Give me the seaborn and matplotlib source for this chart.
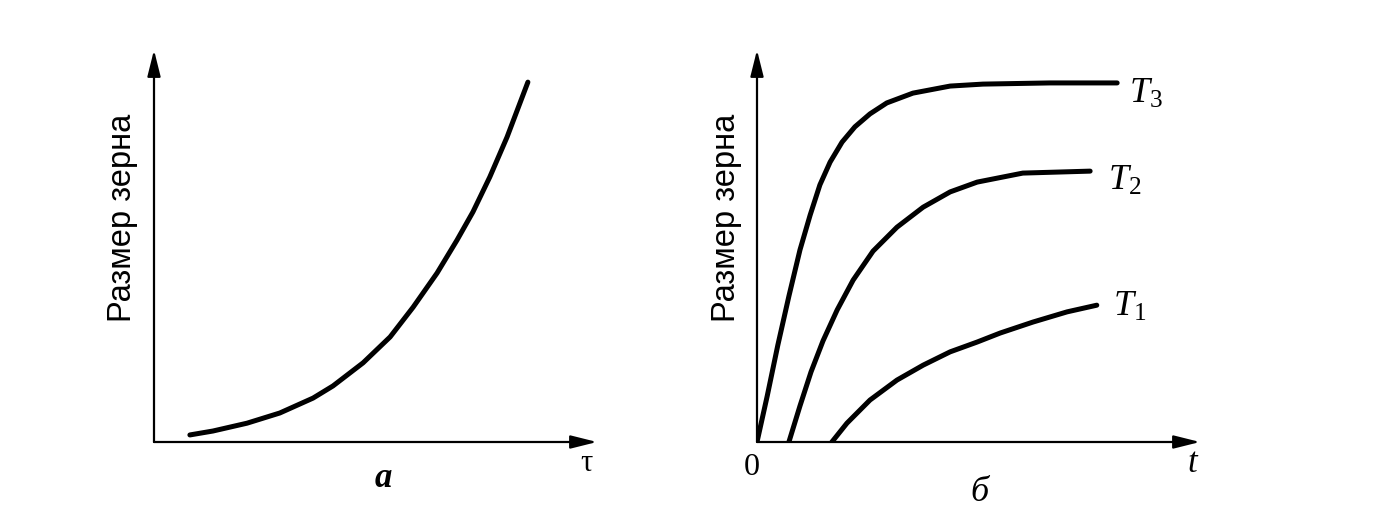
import matplotlib
matplotlib.use("Agg")
import matplotlib.pyplot as plt
import seaborn as sns
import pandas as pd

# curve a: grain size vs time (arbitrary units)
a_time = [0.81, 1.33, 2.10, 2.84, 3.59, 4.04, 4.72, 5.33, 5.85, 6.39, 6.84, 7.20, 7.58, 7.97, 8.44]
a_size = [0.18, 0.28, 0.48, 0.74, 1.12, 1.43, 2.02, 2.68, 3.44, 4.31, 5.15, 5.87, 6.76, 7.78, 9.18]

# curves б: grain size vs time at three temperatures
t3_time = [0.0, 0.23, 0.47, 0.72, 0.97, 1.20, 1.42, 1.65, 1.92, 2.21, 2.55, 2.93, 3.52, 4.36, 5.10, 6.61, 8.13]
t3_size = [0.0, 1.17, 2.47, 3.72, 4.90, 5.79, 6.56, 7.14, 7.65, 8.04, 8.37, 8.65, 8.90, 9.08, 9.13, 9.16, 9.16]
t2_time = [0.72, 0.97, 1.22, 1.49, 1.81, 2.17, 2.62, 3.16, 3.75, 4.36, 4.97, 6.00, 7.52]
t2_size = [0.0, 0.92, 1.79, 2.58, 3.37, 4.13, 4.87, 5.48, 5.99, 6.38, 6.63, 6.86, 6.91]
t1_time = [1.69, 2.03, 2.55, 3.16, 3.75, 4.36, 4.97, 5.49, 6.23, 7.00, 7.67]
t1_size = [0.0, 0.48, 1.07, 1.58, 1.96, 2.30, 2.55, 2.78, 3.06, 3.32, 3.49]

curve_names = ["$T_1$", "$T_2$", "$T_3$"]

sns.set_style("white")
plt.rcParams["font.family"] = ["Liberation Sans", "DejaVu Sans"]
plt.rcParams["text.color"] = "black"
plt.rcParams["mathtext.fontset"] = "custom"
plt.rcParams["mathtext.rm"] = "Liberation Serif"
plt.rcParams["mathtext.it"] = "Liberation Serif:italic"

df_a = pd.DataFrame({"time": a_time, "size": a_size})
df_b = pd.concat([
    pd.DataFrame({"time": t1_time, "size": t1_size, "curve": curve_names[0]}),
    pd.DataFrame({"time": t2_time, "size": t2_size, "curve": curve_names[1]}),
    pd.DataFrame({"time": t3_time, "size": t3_size, "curve": curve_names[2]}),
])

W, H = 1377, 529
fig = plt.figure(figsize=(W / 100, H / 100), dpi=100)
ax1 = fig.add_axes([154 / W, 87 / H, 443 / W, 392 / H])
ax2 = fig.add_axes([757 / W, 87 / H, 443 / W, 392 / H])

line_kw = dict(lw=3.6, solid_capstyle="round", solid_joinstyle="round")
sns.lineplot(x="time", y="size", data=df_a, ax=ax1, color="black", sort=False, **line_kw)
sns.lineplot(x="time", y="size", hue="curve", data=df_b, ax=ax2,
             palette=["black"] * 3, sort=False, legend=False, **line_kw)

serif = "Liberation Serif"
for ax in (ax1, ax2):
    ax.set_xlim(0, 10)
    ax.set_ylim(0, 10)
    ax.set_xticks([])
    ax.set_yticks([])
    ax.set_xlabel("")
    ax.set_ylabel("")
    for s in ax.spines.values():
        s.set_visible(False)
    arrow = dict(arrowstyle="-|>,head_length=0.8,head_width=0.2", lw=1.6,
                 color="black", mutation_scale=20, shrinkA=0, shrinkB=0)
    ax.annotate("", xy=(1, 0), xytext=(0, 0), xycoords="axes fraction",
                arrowprops=arrow, annotation_clip=False)
    ax.annotate("", xy=(0, 1), xytext=(0, 0), xycoords="axes fraction",
                arrowprops=arrow, annotation_clip=False)

fig.text(122 / W, 1 - 218 / H, "Размер зерна", rotation=90, fontsize=23.5,
         ha="center", va="center")
fig.text(726 / W, 1 - 218 / H, "Размер зерна", rotation=90, fontsize=23.5,
         ha="center", va="center")

ax1.text(0.517, -0.092, "a", transform=ax1.transAxes, fontsize=25, family=serif,
         style="italic", weight="bold", ha="center", va="center")
ax1.text(0.977, -0.054, "τ", transform=ax1.transAxes, fontsize=22, family=serif,
         ha="center", va="center")

ax2.text(-0.011, -0.064, "0", transform=ax2.transAxes, fontsize=23, family=serif,
         ha="center", va="center")
ax2.text(0.982, -0.054, "t", transform=ax2.transAxes, fontsize=25, family=serif,
         style="italic", ha="center", va="center")
ax2.text(0.503, -0.130, "б", transform=ax2.transAxes, fontsize=26, family=serif,
         style="italic", ha="center", va="center")

label_pos = {"$T_3$": (0.877, 0.89), "$T_2$": (0.830, 0.668), "$T_1$": (0.841, 0.347)}
for name, (x, y) in label_pos.items():
    ax2.text(x, y, name, transform=ax2.transAxes, fontsize=26,
             ha="center", va="center")

fig.savefig("out.png", dpi=100)
